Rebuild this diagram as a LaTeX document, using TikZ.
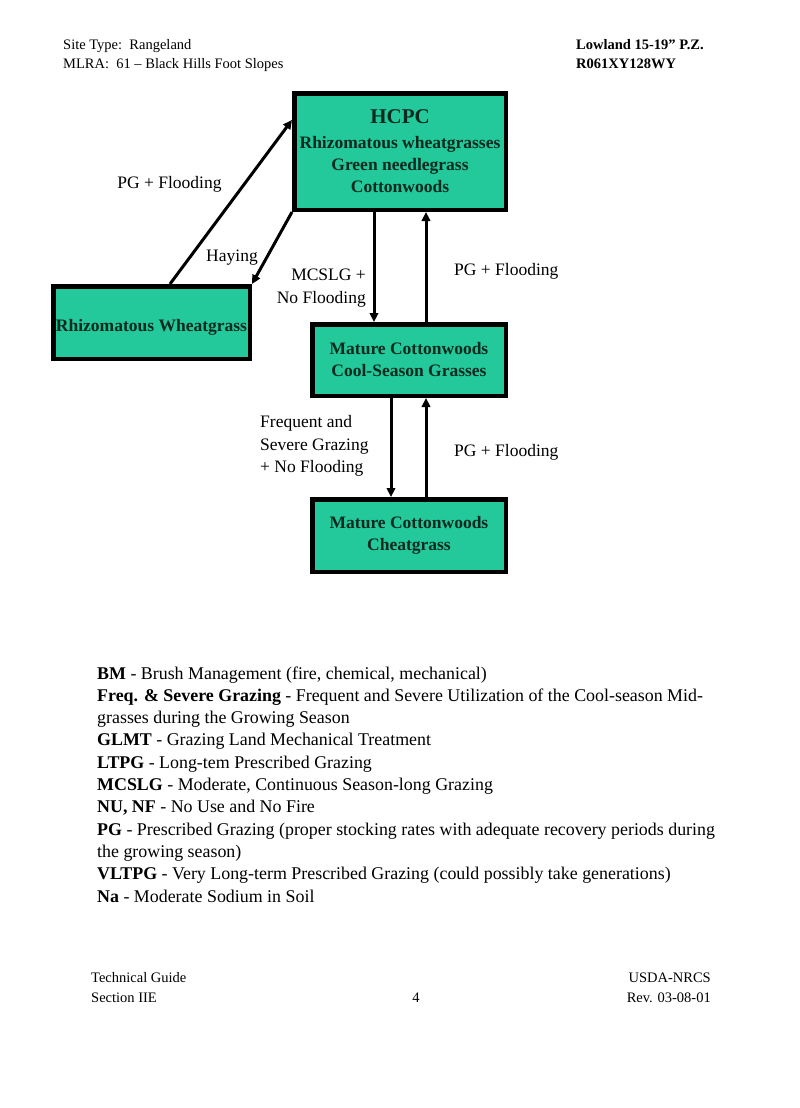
\documentclass[tikz,border=0pt]{standalone}
\usepackage{fontspec}
\setmainfont{Liberation Serif}
\usetikzlibrary{arrows.meta}
\definecolor{boxfill}{RGB}{35,200,155}
\definecolor{boxtext}{RGB}{10,42,30}
\tikzset{
  statebox/.style={draw=black, line width=4.5pt, fill=boxfill, inner sep=0pt,
    align=center, text=boxtext, font=\fontsize{17.5}{22}\selectfont\bfseries},
  arr/.style={line width=3pt, -{Triangle[length=9pt,width=8.5pt]}},
  lbl/.style={inner sep=0pt, font=\fontsize{17.5}{22.5}\selectfont},
  hdr/.style={inner sep=0pt, font=\fontsize{14.5}{20}\selectfont},
  leg/.style={inner sep=0pt, anchor=base west, font=\fontsize{17.9}{22}\selectfont},
}
\begin{document}
\begin{tikzpicture}[x=1pt,y=-1pt]
\useasboundingbox (0,0) rectangle (800,1108);
\fill[white] (0,0) rectangle (800,1108);

% header
\node[hdr, anchor=base west] (h1) at (63,49) {Site Type:\ \ Rangeland};
\node[hdr, anchor=base west] (h2) at (63,69) {MLRA:\ \ 61 – Black Hills Foot Slopes};
\node[hdr, anchor=base west, font=\fontsize{14.5}{20}\selectfont\bfseries] (h3) at (576,49) {Lowland 15-19” P.Z.};
\node[hdr, anchor=base west, font=\fontsize{14.5}{20}\selectfont\bfseries] (h4) at (576,69) {R061XY128WY};

% boxes
\node[statebox, minimum width=211.5pt, minimum height=116.5pt] (hcpc) at (400,151.5)
  {{\fontsize{21}{24}\selectfont HCPC}\\[3pt] Rhizomatous wheatgrasses\\ Green needlegrass\\ Cottonwoods};
\node[statebox, minimum width=196.5pt, minimum height=72.5pt] (rw) at (151.5,322.5)
  {\raisebox{-8.5pt}[0pt][0pt]{Rhizomatous Wheatgrass}};
\node[statebox, minimum width=193.5pt, minimum height=71.5pt] (mccs) at (409,360)
  {Mature Cottonwoods\\ Cool-Season Grasses};
\node[statebox, minimum width=193.5pt, minimum height=72.5pt] (mcch) at (409,535.5)
  {Mature Cottonwoods\\ Cheatgrass};

% connectors
\draw[arr] ([xshift=18.5pt]rw.north) -- ([yshift=31.5pt]hcpc.west);
\draw[arr] (hcpc.south west) -- (rw.north east);
\draw[arr] ([xshift=-26pt]hcpc.south) -- ([xshift=-35pt]mccs.north);
\draw[arr] ([xshift=17pt]mccs.north) -- ([xshift=26pt]hcpc.south);
\draw[arr] ([xshift=-18pt]mccs.south) -- ([xshift=-18pt]mcch.north);
\draw[arr] ([xshift=17pt]mcch.north) -- ([xshift=17pt]mccs.south);

% labels
\node[lbl] (l1) at (169.5,184) {PG + Flooding};
\node[lbl] (l2) at (232,258) {Haying};
\node[lbl, anchor=east, align=right] (l3) at (366,288) {MCSLG +\\ No Flooding};
\node[lbl, anchor=west] (l4) at (454,271) {PG + Flooding};
\node[lbl, anchor=west, align=left] (l5) at (260,446) {Frequent and\\ Severe Grazing\\ + No Flooding};
\node[lbl, anchor=west] (l6) at (454,452) {PG + Flooding};

% legend
\node[leg] (g1) at (97,679) {\textbf{BM} - Brush Management (fire, chemical, mechanical)};
\node[leg] (g2) at (97,701.3) {\textbf{Freq. \& Severe Grazing} - Frequent and Severe Utilization of the Cool-season Mid-};
\node[leg] (g3) at (97,723.6) {grasses during the Growing Season};
\node[leg] (g4) at (97,745.9) {\textbf{GLMT} - Grazing Land Mechanical Treatment};
\node[leg] (g5) at (97,768.2) {\textbf{LTPG} - Long-tem Prescribed Grazing};
\node[leg] (g6) at (97,790.5) {\textbf{MCSLG} - Moderate, Continuous Season-long Grazing};
\node[leg] (g7) at (97,812.8) {\textbf{NU, NF} - No Use and No Fire};
\node[leg] (g8) at (97,835.1) {\textbf{PG} - Prescribed Grazing (proper stocking rates with adequate recovery periods during};
\node[leg] (g9) at (97,857.4) {the growing season)};
\node[leg] (g10) at (97,879.7) {\textbf{VLTPG} - Very Long-term Prescribed Grazing (could possibly take generations)};
\node[leg] (g11) at (97,902) {\textbf{Na} - Moderate Sodium in Soil};

% footer
\node[hdr, anchor=base west] (f1) at (91,982) {Technical Guide};
\node[hdr, anchor=base west] (f2) at (91,1002) {Section IIE};
\node[hdr, anchor=base] (f3) at (416,1002) {4};
\node[hdr, anchor=base east] (f4) at (711,982) {USDA-NRCS};
\node[hdr, anchor=base east] (f5) at (711,1002) {Rev. 03-08-01};
\end{tikzpicture}
\end{document}
